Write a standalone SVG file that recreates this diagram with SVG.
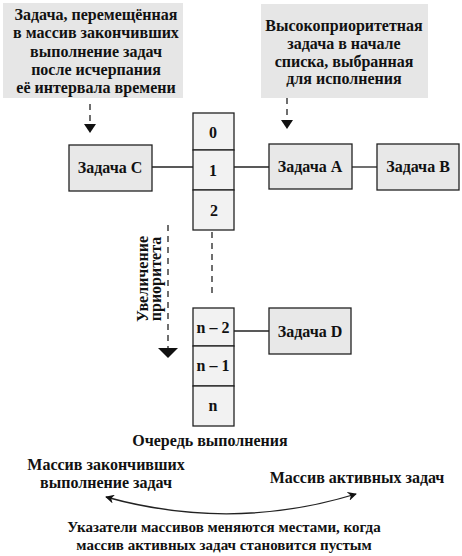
<svg xmlns="http://www.w3.org/2000/svg" width="462" height="556" viewBox="0 0 462 556">
<defs>
<style>
text{font-family:"Liberation Serif","Times New Roman",serif;font-weight:bold;font-size:16px;fill:#111;text-anchor:middle}
.sm{font-size:15px}
.note{fill:#e6e6e6;stroke:none}
.task{fill:#e8e8e8;stroke:#222;stroke-width:1.3}
.cell{fill:#f2f2f2;stroke:#222;stroke-width:1.3}
.ln{stroke:#222;stroke-width:1.3;fill:none}
.dash{stroke:#222;stroke-width:1.3;fill:none;stroke-dasharray:6,5}
</style>
<marker id="ah" viewBox="0 0 10 10" refX="9" refY="5" markerWidth="9" markerHeight="9" orient="auto-start-reverse" markerUnits="userSpaceOnUse">
<path d="M0,0 L10,5 L0,10 L3,5 z" fill="#111"/>
</marker>
</defs>
<g id="note-left">
<rect class="note" x="3" y="3" width="180" height="95"/>
<text x="96" y="20">Задача, перемещённая</text>
<text x="96" y="38">в массив закончивших</text>
<text x="96" y="57">выполнение задач</text>
<text x="96" y="75">после исчерпания</text>
<text x="96" y="93">её интервала времени</text>
</g>
<g id="note-right">
<rect class="note" x="261" y="4" width="167" height="94"/>
<text x="344" y="31">Высокоприоритетная</text>
<text x="344" y="49">задача в начале</text>
<text x="344" y="67">списка, выбранная</text>
<text x="344" y="84">для исполнения</text>
</g>
<g id="queue">
<rect class="cell" x="193" y="113" width="41" height="37"/>
<rect class="cell" x="193" y="150" width="41" height="40"/>
<rect class="cell" x="193" y="190" width="41" height="40"/>
<text x="213" y="138">0</text>
<text x="213" y="176">1</text>
<text x="214" y="216">2</text>
<rect class="cell" x="193" y="308" width="41" height="38"/>
<rect class="cell" x="193" y="346" width="41" height="40"/>
<rect class="cell" x="193" y="386" width="41" height="40"/>
<text x="213" y="333">n – 2</text>
<text x="213" y="371">n – 1</text>
<text x="213" y="411">n</text>
</g>
<g id="task-c">
<rect class="task" x="69" y="145" width="83" height="46"/>
<text x="110" y="173">Задача C</text>
</g>
<g id="task-a">
<rect class="task" x="269" y="144" width="83" height="45"/>
<text x="310" y="172">Задача A</text>
</g>
<g id="task-b">
<rect class="task" x="377" y="144" width="82" height="46"/>
<text x="418" y="172">Задача B</text>
</g>
<g id="task-d">
<rect class="task" x="269" y="308" width="82" height="46"/>
<text x="310" y="337">Задача D</text>
</g>
<g id="connectors">
<line class="ln" x1="152" y1="167" x2="193" y2="167"/>
<line class="ln" x1="234" y1="167" x2="269" y2="167"/>
<line class="ln" x1="352" y1="167" x2="377" y2="167"/>
<line class="ln" x1="234" y1="331" x2="269" y2="331"/>
<line class="dash" x1="212" y1="232" x2="212" y2="298"/>
<line class="dash" x1="90" y1="104" x2="90" y2="124"/>
<path d="M84,124 L96,124 L90,133 z" fill="#111"/>
<line class="dash" x1="287" y1="98" x2="287" y2="120"/>
<path d="M281,120 L293,120 L287,129 z" fill="#111"/>
<line class="dash" x1="168" y1="225" x2="168" y2="349"/>
<path d="M158,348 L178,348 L168,358 z" fill="#111"/>
<path class="ln" d="M106,497 Q232,532 356,494" marker-start="url(#ah)" marker-end="url(#ah)" stroke-width="1"/>
</g>
<g id="labels">
<text transform="translate(148,279) rotate(-90)">Увеличение</text>
<text transform="translate(161,279) rotate(-90)">приоритета</text>
<text x="210" y="446">Очередь выполнения</text>
<text x="106" y="470">Массив закончивших</text>
<text x="106" y="488">выполнение задач</text>
<text x="357" y="483">Массив активных задач</text>
<text class="sm" x="224" y="532">Указатели массивов меняются местами, когда</text>
<text class="sm" x="224" y="550">массив активных задач становится пустым</text>
</g>
</svg>
